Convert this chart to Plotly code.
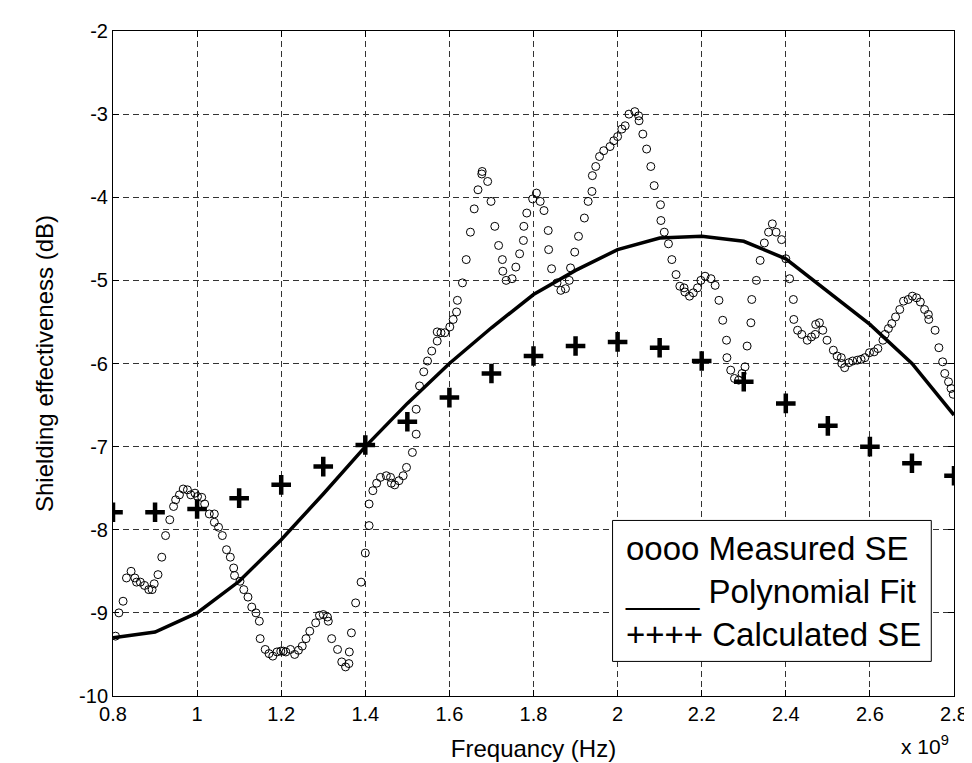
import plotly.graph_objects as go

# Measured SE (x in units of 1e9 Hz, y in dB)
meas_x = [0.806, 0.814, 0.824, 0.832, 0.843, 0.852, 0.856, 0.865, 0.875, 0.885, 0.893, 0.898, 0.907, 0.916,
          0.925, 0.935, 0.944, 0.949, 0.958, 0.967, 0.977, 0.985, 0.995, 1.001, 1.011, 1.018, 1.029, 1.041,
          1.041, 1.051, 1.060, 1.070, 1.079, 1.087, 1.089, 1.102, 1.111, 1.121, 1.130, 1.140, 1.148, 1.150,
          1.162, 1.171, 1.180, 1.190, 1.199, 1.205, 1.211, 1.222, 1.232, 1.241, 1.250, 1.259, 1.268, 1.282,
          1.291, 1.300, 1.310, 1.312, 1.320, 1.334, 1.344, 1.353, 1.361, 1.362, 1.367, 1.377, 1.390, 1.400,
          1.409, 1.409, 1.418, 1.427, 1.436, 1.450, 1.460, 1.462, 1.470, 1.480, 1.490, 1.498, 1.512, 1.521,
          1.521, 1.529, 1.539, 1.548, 1.558, 1.571, 1.571, 1.580, 1.589, 1.601, 1.609, 1.617, 1.619, 1.631,
          1.640, 1.650, 1.659, 1.668, 1.677, 1.678, 1.691, 1.699, 1.708, 1.717, 1.726, 1.727, 1.735, 1.749,
          1.758, 1.767, 1.776, 1.777, 1.784, 1.798, 1.807, 1.816, 1.825, 1.835, 1.836, 1.843, 1.856, 1.865,
          1.876, 1.885, 1.888, 1.898, 1.907, 1.921, 1.930, 1.939, 1.940, 1.948, 1.957, 1.967, 1.982, 1.991,
          2.000, 2.010, 2.018, 2.027, 2.041, 2.050, 2.051, 2.060, 2.069, 2.079, 2.087, 2.102, 2.103, 2.111,
          2.121, 2.129, 2.139, 2.148, 2.158, 2.160, 2.171, 2.180, 2.190, 2.198, 2.208, 2.222, 2.232, 2.241,
          2.250, 2.259, 2.260, 2.269, 2.278, 2.288, 2.296, 2.303, 2.308, 2.317, 2.319, 2.330, 2.339, 2.349,
          2.359, 2.368, 2.377, 2.390, 2.400, 2.409, 2.418, 2.419, 2.428, 2.438, 2.451, 2.461, 2.470, 2.471,
          2.480, 2.488, 2.498, 2.513, 2.522, 2.532, 2.533, 2.540, 2.550, 2.559, 2.570, 2.579, 2.588, 2.599,
          2.610, 2.619, 2.631, 2.636, 2.644, 2.652, 2.661, 2.671, 2.680, 2.691, 2.701, 2.711, 2.720, 2.730,
          2.739, 2.740, 2.755, 2.764, 2.773, 2.778, 2.787, 2.793, 2.798]
meas_y = [-9.28, -9.00, -8.86, -8.58, -8.50, -8.58, -8.63, -8.63, -8.67, -8.72, -8.72, -8.65, -8.54, -8.33,
          -8.07, -7.88, -7.72, -7.64, -7.58, -7.51, -7.52, -7.58, -7.56, -7.60, -7.61, -7.69, -7.81, -7.81,
          -7.91, -7.97, -8.07, -8.24, -8.33, -8.46, -8.55, -8.62, -8.72, -8.81, -8.93, -9.00, -9.10, -9.31,
          -9.44, -9.49, -9.52, -9.47, -9.46, -9.46, -9.47, -9.44, -9.50, -9.45, -9.40, -9.31, -9.22, -9.12,
          -9.03, -9.02, -9.05, -9.10, -9.31, -9.44, -9.59, -9.65, -9.61, -9.47, -9.24, -8.88, -8.63, -8.28,
          -7.95, -7.69, -7.53, -7.44, -7.37, -7.35, -7.37, -7.44, -7.46, -7.41, -7.35, -7.25, -7.07, -6.85,
          -6.55, -6.27, -6.10, -5.97, -5.85, -5.73, -5.62, -5.63, -5.63, -5.56, -5.47, -5.38, -5.24, -5.03,
          -4.75, -4.42, -4.14, -3.91, -3.72, -3.69, -3.81, -4.05, -4.35, -4.58, -4.75, -4.89, -5.00, -4.98,
          -4.84, -4.68, -4.52, -4.35, -4.19, -4.02, -3.95, -4.05, -4.16, -4.40, -4.63, -4.86, -5.03, -5.12,
          -5.10, -5.00, -4.85, -4.66, -4.47, -4.25, -4.05, -3.93, -3.74, -3.63, -3.51, -3.44, -3.39, -3.32,
          -3.27, -3.18, -3.14, -3.00, -2.97, -3.02, -3.08, -3.24, -3.42, -3.63, -3.86, -4.09, -4.28, -4.42,
          -4.56, -4.75, -4.93, -5.07, -5.09, -5.14, -5.19, -5.15, -5.09, -5.00, -4.95, -4.98, -5.06, -5.24,
          -5.48, -5.72, -5.93, -6.08, -6.18, -6.20, -6.12, -6.04, -5.79, -5.51, -5.23, -5.00, -4.76, -4.55,
          -4.42, -4.32, -4.42, -4.51, -4.74, -4.98, -5.23, -5.47, -5.60, -5.65, -5.72, -5.68, -5.65, -5.53,
          -5.51, -5.60, -5.72, -5.84, -5.91, -5.93, -6.00, -6.05, -5.99, -5.97, -5.96, -5.95, -5.93, -5.87,
          -5.86, -5.82, -5.72, -5.65, -5.58, -5.52, -5.44, -5.35, -5.25, -5.23, -5.19, -5.21, -5.26, -5.35,
          -5.41, -5.47, -5.60, -5.81, -5.98, -6.12, -6.22, -6.30, -6.37]

# Polynomial fit and calculated SE at 0.1e9 Hz steps
calc_x = [0.8, 0.9, 1.0, 1.1, 1.2, 1.3, 1.4, 1.5, 1.6, 1.7, 1.8, 1.9, 2.0, 2.1, 2.2, 2.3, 2.4, 2.5, 2.6, 2.7, 2.8]
fit_y = [-9.30, -9.23, -9.00, -8.62, -8.12, -7.57, -7.00, -6.48, -6.00, -5.57, -5.17, -4.88, -4.63, -4.49,
         -4.47, -4.53, -4.74, -5.14, -5.53, -6.00, -6.62]
calc_y = [-7.79, -7.79, -7.75, -7.62, -7.46, -7.24, -6.98, -6.70, -6.41, -6.12, -5.91, -5.79, -5.74, -5.81,
          -5.97, -6.22, -6.48, -6.75, -7.00, -7.20, -7.35]

x_ticks = [0.8, 1.0, 1.2, 1.4, 1.6, 1.8, 2.0, 2.2, 2.4, 2.6, 2.8]
x_tick_text = ["0.8", "1", "1.2", "1.4", "1.6", "1.8", "2", "2.2", "2.4", "2.6", "2.8"]
y_ticks = [-10, -9, -8, -7, -6, -5, -4, -3, -2]
y_tick_text = ["-10", "-9", "-8", "-7", "-6", "-5", "-4", "-3", "-2"]

FONT = "Liberation Sans, Arial, sans-serif"

fig = go.Figure()
fig.add_trace(go.Scatter(x=meas_x, y=meas_y, mode="markers", name="Measured SE",
                         marker=dict(symbol="circle-open", size=8, color="black", line=dict(width=1, color="black"))))
fig.add_trace(go.Scatter(x=calc_x, y=fit_y, mode="lines", name="Polynomial Fit",
                         line=dict(color="black", width=3.5)))
fig.add_trace(go.Scatter(x=calc_x, y=calc_y, mode="markers", name="Calculated SE",
                         marker=dict(symbol="cross-thin-open", size=14, color="black",
                                     line=dict(width=4.5, color="black"))))

axis_common = dict(showline=True, linecolor="black", linewidth=1, mirror="allticks",
                   ticks="inside", ticklen=6, tickcolor="black",
                   showgrid=True, gridcolor="#333333", gridwidth=1, griddash="6px,4px",
                   zeroline=False, tickfont=dict(size=20, color="black", family=FONT))

fig.update_xaxes(range=[0.8, 2.8], tickvals=x_ticks, ticktext=x_tick_text,
                 title=dict(text="Frequancy (Hz)", font=dict(size=24, color="black", family=FONT), standoff=16),
                 **axis_common)
fig.update_yaxes(range=[-10, -2], tickvals=y_ticks, ticktext=y_tick_text,
                 title=dict(text="Shielding effectiveness (dB)", font=dict(size=24, color="black", family=FONT), standoff=18),
                 **axis_common)

# Legend box drawn as a text box
fig.add_shape(type="rect", xref="paper", yref="paper", x0=0.594, x1=0.973, y0=0.052, y1=0.264,
              line=dict(color="black", width=1), fillcolor="white", layer="above")
fig.add_annotation(xref="paper", yref="paper", x=0.607, y=0.252, xanchor="left", yanchor="top",
                   align="left", showarrow=False,
                   text="oooo Measured SE<br>____ Polynomial Fit<br>++++ Calculated SE",
                   font=dict(size=33, color="black", family=FONT))
fig.add_annotation(xref="paper", yref="paper", x=0.966, y=-0.074, xanchor="center", yanchor="middle",
                   showarrow=False, text="x 10<sup>9</sup>", font=dict(size=21, color="black", family=FONT))

fig.update_layout(width=972, height=763, margin=dict(l=105, r=24, t=18, b=75),
                  plot_bgcolor="white", paper_bgcolor="white", showlegend=False,
                  font=dict(family=FONT, color="black"))

fig.write_html("out.html")
